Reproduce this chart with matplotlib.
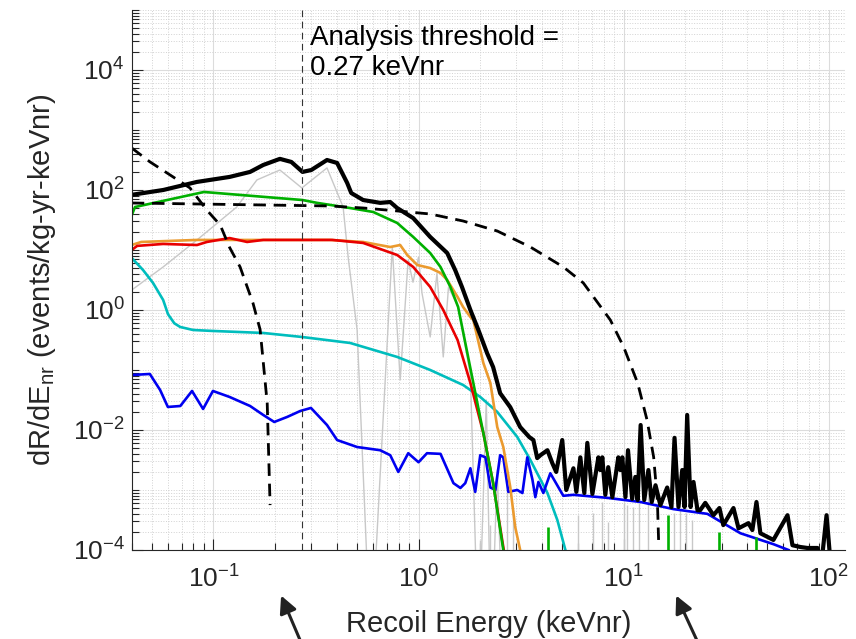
import matplotlib
matplotlib.use('Agg')
import matplotlib.pyplot as plt
from matplotlib.ticker import FixedLocator, LogLocator, FuncFormatter, NullFormatter
import numpy as np

plt.rcParams['font.family'] = ['Liberation Sans', 'DejaVu Sans']
plt.rcParams['mathtext.fontset'] = 'custom'
plt.rcParams['mathtext.rm'] = 'Liberation Sans'
plt.rcParams['mathtext.it'] = 'Liberation Sans:italic'
plt.rcParams['mathtext.bf'] = 'Liberation Sans:bold'

# ---- data (x: keVnr, y: events/kg-yr-keVnr) ----
threshold_E = 0.27

total_E = [0.040, 0.057, 0.083, 0.120, 0.151, 0.175, 0.211, 0.24, 0.272, 0.30,
           0.358, 0.401, 0.449, 0.47, 0.537, 0.65, 0.728, 0.787, 0.942, 1.14,
           1.38, 1.51, 1.63, 1.79, 1.96, 2.16, 2.31, 2.5, 2.8, 3.13,
           3.47, 3.63, 3.79, 3.93, 4.25, 4.49, 4.69, 5.02, 5.25, 5.69,
           5.88, 6.15, 6.43, 6.65, 7.04, 7.53, 7.69, 7.87, 8.14, 8.41,
           8.81, 9.42, 9.63, 9.85, 10.2, 10.5, 11.0, 11.4, 11.7, 12.1,
           12.6, 13.2, 13.7, 14.3, 15.1, 16.3, 17.1, 17.7, 18.5, 19.3,
           19.8, 20.4, 21.2, 21.9, 22.9, 23.6, 25.0, 27.4, 29.3, 30.6,
           34.3, 36.3, 40.6, 42.4, 44.4, 46.4, 53.7, 62.9, 66.5, 72.8,
           78.7, 88.1, 92.1, 97.5, 102]
total_R = [83, 100, 136, 165, 200, 261, 330, 293, 200, 215,
           316, 282, 131, 89, 68, 61, 63, 50, 34, 16.5,
           8.9, 4.6, 2.4, 1.0, 0.46, 0.19, 0.112, 0.041, 0.024, 0.0112,
           7.6e-3, 6.8e-3, 3.4e-3, 3.8e-3, 4.6e-3, 2.8e-3, 2.0e-3, 6.8e-3, 1.0e-3, 2.3e-3,
           9.3e-4, 3.5e-3, 8.9e-4, 6.1e-3, 8.6e-4, 3.5e-3, 2.15e-3, 3.5e-3, 8.3e-4, 2.4e-3,
           7.6e-4, 3.5e-3, 2.15e-3, 3.5e-3, 7.6e-4, 4.6e-3, 7.1e-4, 1.65e-3, 6.8e-4, 0.0121,
           6.8e-4, 2.15e-3, 6.3e-4, 1.2e-3, 5.6e-4, 1.1e-3, 5.2e-4, 7.4e-3, 5.2e-4, 2.15e-3,
           5.2e-4, 0.0178, 5.2e-4, 1.36e-3, 4.6e-4, 4.6e-4, 6.1e-4, 3.8e-4, 5.0e-4, 2.6e-4,
           5.0e-4, 2.3e-4, 2.8e-4, 2.15e-4, 6.3e-4, 1.9e-4, 1.47e-4, 3.8e-4, 1.2e-4, 1.12e-4,
           1.08e-4, 1.08e-4, 6e-5, 3.8e-4, 6e-5]

blue_E = [0.040, 0.049, 0.055, 0.060, 0.069, 0.0787, 0.0891, 0.0995, 0.120, 0.151,
          0.175, 0.198, 0.229, 0.265, 0.299, 0.358, 0.401, 0.502, 0.650, 0.728,
          0.797, 0.891, 1.0, 1.10, 1.28, 1.48, 1.60, 1.69, 1.79, 1.89,
          2.0, 2.12, 2.24, 2.37, 2.5, 2.59, 2.74, 3.03, 3.21, 3.39,
          3.59, 3.71, 3.84, 4.06, 4.39, 5.08, 5.69, 8.32, 12.1, 17.5,
          25.6, 37.1, 53.7, 63.6]
blue_R = [0.0825, 0.0858, 0.0464, 0.0242, 0.0251, 0.0447, 0.0224, 0.0447, 0.0355, 0.0251,
          0.0178, 0.0136, 0.0165, 0.0207, 0.0233, 0.0121, 6.8e-3, 5.2e-3, 4.6e-3, 3.8e-3,
          2.0e-3, 4.1e-3, 2.9e-3, 4.1e-3, 4.0e-3, 1.3e-3, 1.08e-3, 1.3e-3, 2.3e-3, 9.3e-4,
          3.8e-3, 3.5e-3, 1.1e-3, 1.0e-3, 3.8e-3, 3.5e-3, 9.3e-4, 1.0e-3, 8.9e-4, 3.5e-3,
          1.5e-3, 7.6e-4, 1.36e-3, 8.9e-4, 1.9e-3, 8.0e-4, 8.3e-4, 7.4e-4, 6.3e-4, 4.8e-4,
          4.0e-4, 1.9e-4, 1.25e-4, 1.0e-4]

cyan_E = [0.040, 0.0454, 0.0508, 0.0569, 0.0601, 0.0645, 0.0689, 0.0796, 0.0995, 0.175,
          0.27, 0.464, 0.787, 1.14, 1.65, 2.0, 2.42, 3.03, 3.51, 4.25, 4.75, 5.2, 5.4]
cyan_R = [7.36, 4.64, 2.82, 1.47, 0.85, 0.6, 0.521, 0.464, 0.447, 0.414,
          0.355, 0.282, 0.165, 0.1, 0.0562, 0.0355, 0.02, 7.64e-3, 3.16e-3, 8.9e-4,
          3.16e-4, 1.0e-4, 5e-5]

green_E = [0.040, 0.0415, 0.09, 0.272, 0.32, 0.464, 0.601, 0.787, 0.942, 1.14,
           1.28, 1.43, 1.56, 1.85, 2.07, 2.31, 2.59, 2.7]
green_R = [38, 52, 92.6, 68, 61, 50, 43, 28.2, 16.5, 8.9,
           5.2, 2.42, 1.12, 0.0607, 8.9e-3, 1.31e-3, 1.0e-4, 3e-5]
green_spike_E = [4.29, 16.5, 29.3, 44.4]
green_spike_R = [2.4e-4, 3.8e-4, 2.0e-4, 1.65e-4]

red_E = [0.040, 0.0425, 0.0569, 0.0832, 0.093, 0.120, 0.146, 0.175, 0.38, 0.537,
         0.787, 0.942, 1.14, 1.32, 1.55, 1.79, 2.07, 2.31, 2.59, 2.7]
red_R = [10.0, 11.7, 12.6, 12.1, 13.6, 15.8, 13.6, 14.7, 14.7, 13.1,
         8.25, 5.21, 2.42, 1.0, 0.316, 0.0607, 8.9e-3, 1.31e-3, 1.12e-4, 4.6e-5]

orange_E = [0.040, 0.0445, 0.083, 0.371, 0.537, 0.728, 0.814, 0.881, 0.986, 1.14,
            1.28, 1.38, 1.55, 1.65, 1.79, 1.85, 2.07, 2.24, 2.42, 2.59,
            2.80, 2.96, 3.13, 3.2]
orange_R = [12.1, 13.6, 14.7, 14.7, 13.6, 11.2, 12.1, 8.25, 5.62, 5.0,
            4.14, 3.16, 1.65, 1.12, 0.764, 0.681, 0.131, 0.0607, 0.0112, 5.2e-3,
            1.12e-3, 2.42e-4, 1.0e-4, 4.6e-5]

gray_E = [0.040, 0.0569, 0.0832, 0.130, 0.163, 0.211, 0.27, 0.358, 0.429, 0.454,
          0.502, 0.585, 0.745, 0.814, 0.89, 0.94, 1.0, 1.04, 1.14, 1.23,
          1.32, 1.40, 1.56, 1.79, 1.96, 2.14, 2.26, 2.42, 2.59]
gray_R = [2.15, 5.21, 14.7, 52, 147, 215, 108, 233, 52, 7.6,
          0.464, 2e-6, 11.2, 0.068, 6.8, 2.9, 7.6, 1.9, 0.355, 4.1,
          0.165, 2.4, 1.12, 0.082, 2e-6, 0.0316, 2e-6, 2.15e-3, 2e-6]
gray_spike_E = [2.0, 2.24, 2.71, 2.90, 6.0, 7.1, 7.87, 8.4, 10.0, 10.4,
                11.1, 11.9, 13.2, 17.5, 18.9, 20.2, 21.6]
gray_spike_R = [1.47e-4, 2.6e-4, 1.6e-3, 4.6e-4, 3.8e-4, 4.1e-4, 6.3e-4, 2.9e-4, 6.1e-4, 5.6e-4,
                5.2e-4, 6.1e-4, 8.9e-4, 4.1e-4, 4.6e-4, 4.1e-4, 3.2e-4]

wimp1_E = [0.040, 0.049, 0.0615, 0.0769, 0.093, 0.108, 0.120, 0.135, 0.156, 0.169, 0.183, 0.189]
wimp1_R = [501, 295, 178, 108, 46, 26, 11, 5.2, 1.3, 0.47, 0.028, 5.6e-4]

wimp2_E = [0.040, 0.371, 0.537, 0.787, 1.14, 1.65, 2.42, 3.51, 5.08, 6.36,
           8.61, 10.0, 11.7, 13.0, 14.0, 14.6, 14.8]
wimp2_R = [60.7, 54.1, 50.1, 44.7, 39.8, 30.4, 20.7, 11.2, 5.21, 2.82,
           0.681, 0.242, 0.0607, 0.0147, 3.55e-3, 6.8e-4, 1.47e-4]

x_major = [0.1, 1, 10, 100]
y_major = [1e-4, 1e-2, 1, 1e2, 1e4]

# ---- figure ----
fig = plt.figure(figsize=(8.56, 6.39), dpi=100)
ax = fig.add_axes([0.1539, 0.1393, 0.8333, 0.8451])
ax.set_xscale('log')
ax.set_yscale('log')

ax.vlines(gray_spike_E, 1e-6, gray_spike_R, color='#c8c8c8', lw=1.0)
ax.plot(gray_E, gray_R, color='#c8c8c8', lw=1.0)
ax.plot(cyan_E, cyan_R, color='#00bdbd', lw=1.9)
ax.plot(blue_E, blue_R, color='#0000f0', lw=1.9)
ax.plot(orange_E, orange_R, color='#eb9a2e', lw=1.9)
ax.plot(red_E, red_R, color='#e80000', lw=1.9)
ax.vlines(green_spike_E, 1e-6, green_spike_R, color='#00b000', lw=1.9)
ax.plot(green_E, green_R, color='#00b000', lw=1.9)
ax.plot(wimp1_E, wimp1_R, color='black', lw=2.0, dashes=(4.5, 2.8))
ax.plot(wimp2_E, wimp2_R, color='black', lw=2.0, dashes=(4.5, 2.8))
ax.plot(total_E, total_R, color='black', lw=3.0, solid_joinstyle='round')
ax.axvline(threshold_E, color='#333333', lw=0.8, dashes=(6, 4))

ax.set_xlim(0.04, 120)
ax.set_ylim(1e-4, 1e5)

fmt = FuncFormatter(lambda v, p: r'$10^{%d}$' % round(np.log10(v)))
ax.xaxis.set_major_locator(FixedLocator(x_major))
ax.yaxis.set_major_locator(FixedLocator(y_major))
ax.xaxis.set_major_formatter(fmt)
ax.yaxis.set_major_formatter(fmt)
ax.xaxis.set_minor_locator(LogLocator(base=10, subs=np.arange(1, 10), numticks=100))
ax.yaxis.set_minor_locator(LogLocator(base=10, subs=np.arange(1, 10), numticks=100))
ax.xaxis.set_minor_formatter(NullFormatter())
ax.yaxis.set_minor_formatter(NullFormatter())

ax.set_axisbelow(True)
ax.grid(which='major', color='#dcdcdc', lw=0.8)
ax.grid(which='minor', color='#d2d2d2', ls=':', lw=0.7)

for s in ['top', 'right']:
    ax.spines[s].set_visible(False)
for s in ['left', 'bottom']:
    ax.spines[s].set_color('#262626')
    ax.spines[s].set_linewidth(0.8)

ax.tick_params(which='both', direction='in', top=False, right=False, colors='#262626', width=0.8)
ax.tick_params(which='major', length=8, labelsize=19)
ax.tick_params(which='minor', length=5)
ax.tick_params(axis='x', pad=11)
ax.tick_params(axis='y', pad=5)

ax.set_xlabel('Recoil Energy (keVnr)', fontsize=21, color='#262626')
ax.set_ylabel(r'dR/dE$_{\rm nr}$ (events/kg-yr-keVnr)', fontsize=21, color='#262626')
ax.xaxis.set_label_coords(0.5, -0.112)
ax.yaxis.set_label_coords(-0.103, 0.5)

ax.text(0.25, 0.972, 'Analysis threshold =\n0.27 keVnr', transform=ax.transAxes,
        fontsize=20, va='top', ha='left', color='black')

for tip, tail in [((280, 46), (303, -8)), ((675, 46), (700, -8))]:
    ax.annotate('', xy=tip, xycoords='figure pixels', xytext=tail, textcoords='figure pixels',
                arrowprops=dict(arrowstyle='-|>', lw=2.2, color='#222222', mutation_scale=26),
                annotation_clip=False)

fig.savefig('out.png', dpi=100)
